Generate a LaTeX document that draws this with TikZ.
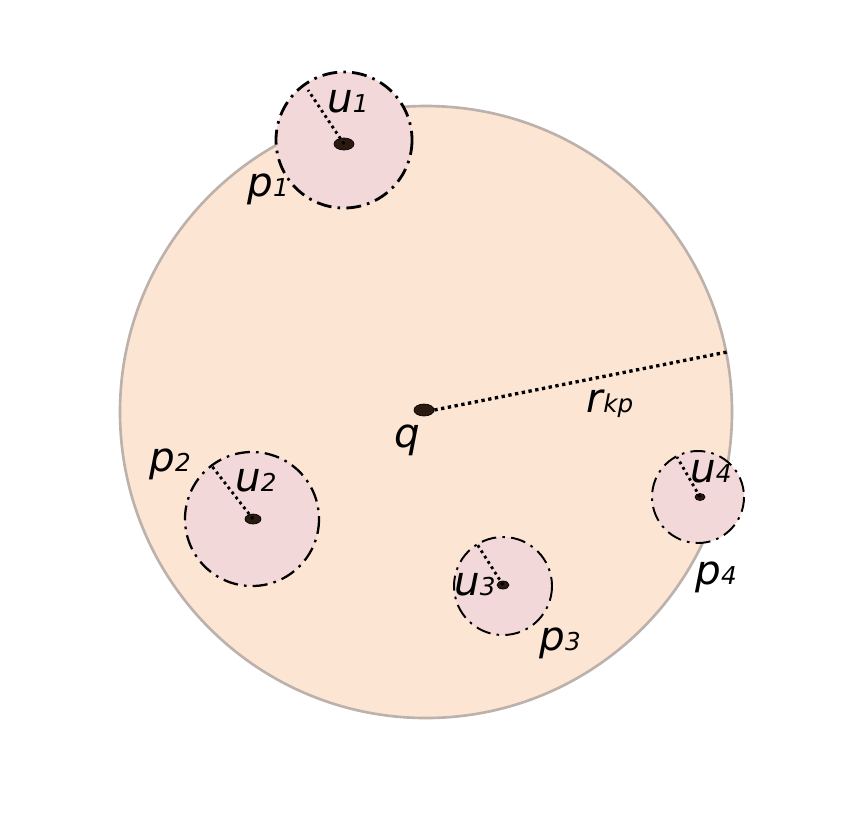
\documentclass[tikz,border=0pt]{standalone}
\usepackage{fontspec}
\setmainfont{DejaVu Sans}
\usetikzlibrary{shapes.geometric}
\definecolor{rangefill}{HTML}{FDE5D4}
\definecolor{rangeedge}{HTML}{BCB1AB}
\definecolor{objfill}{HTML}{F2D8D8}
\definecolor{ptfill}{HTML}{2A1A10}
% label with a small subscript on the baseline
\newcommand{\objlab}[2]{{\fontsize{23}{26}\selectfont\itshape #1}{\fontsize{14}{16}\selectfont\itshape #2}}
\tikzset{
  objregion/.style={fill=objfill, draw=black, dash pattern=on 8.5pt off 3.5pt on 1.5pt off 3.5pt},
  radline/.style={line width=1.6pt, dash pattern=on 1.6pt off 2pt},
  pt/.style={ellipse, fill=ptfill, draw=black, line width=0.4pt, inner sep=0pt},
  lab/.style={inner sep=0pt}
}
\begin{document}
\begin{tikzpicture}[x=0.02cm, y=-0.02cm]
\useasboundingbox (0,0) rectangle (858,816);
% --- range circle around q ---
\draw[fill=rangefill, draw=rangeedge, line width=1.5pt] (426,412) circle (306);
% --- uncertain objects: name/centre/radius/width/point/size/end of radius ---
\foreach \n/\cx/\cy/\r/\w/\px/\py/\sx/\sy/\ex/\ey in {
  1/344/140/68/1.6pt/344/144/20/12/308/90,
  2/252/519/67/1.3pt/253/519/16/10/211/465,
  3/503/586/49/1.1pt/503/585/12/8/477/544,
  4/698/497/46/1.1pt/700/497/10/7/677/457} {
  \draw[objregion, line width=\w] (\cx,\cy) circle (\r);
  \coordinate (e\n) at (\ex,\ey);
  \node[pt, minimum width=\sx*0.02cm, minimum height=\sy*0.02cm] (u\n) at (\px,\py) {};
  \draw[radline] (u\n.center) -- (e\n);
}
% --- query point and range radius ---
\coordinate (rim) at (727,352);
\node[pt, minimum width=0.4cm, minimum height=0.24cm] (q) at (424,410) {};
\draw[radline, line width=1.9pt, dash pattern=on 1.9pt off 2pt] (q.east) -- (rim);
% --- labels ---
\node[lab] (lq) at (407,440) {\fontsize{23}{26}\selectfont\itshape q};
\node[lab] (lr) at (610,404) {\objlab{r}{kp}};
\node[lab] (lu1) at (348,102) {\objlab{u}{1}};
\node[lab] (lp1) at (268,189) {\objlab{p}{1}};
\node[lab] (lu2) at (256,481) {\objlab{u}{2}};
\node[lab] (lp2) at (170,464) {\objlab{p}{2}};
\node[lab] (lu3) at (475,585) {\objlab{u}{3}};
\node[lab] (lp3) at (560,643) {\objlab{p}{3}};
\node[lab] (lu4) at (711,472) {\objlab{u}{4}};
\node[lab] (lp4) at (716,577) {\objlab{p}{4}};
\end{tikzpicture}
\end{document}
